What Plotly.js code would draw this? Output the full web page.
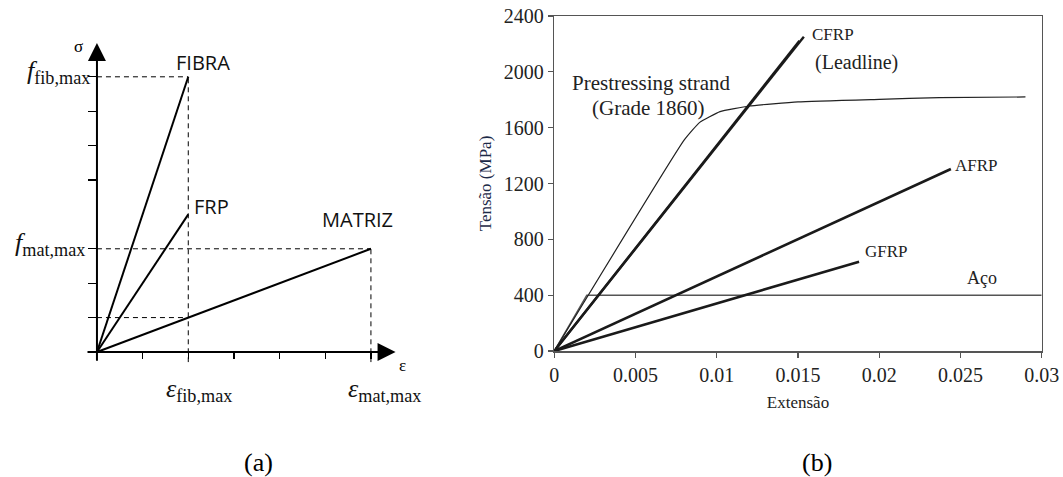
<!DOCTYPE html>
<html>
<head>
<meta charset="utf-8">
<script src="https://cdn.plot.ly/plotly-3.0.1.min.js"></script>
<style>html,body{margin:0;padding:0;background:#fff;}#chart{width:1063px;height:477px;}</style>
</head>
<body>
<div id="chart"></div>
<script>
// ---------- Panel (a): schematic ----------
const epsFib = 1;      // ε_fib,max
const epsMat = 3;      // ε_mat,max
const fFib = 8;        // f_fib,max
const fFRP = 4;        // FRP stress at ε_fib,max
const fMat = 3;        // f_mat,max
const fMatAtEpsFib = 1;
const schemXTicks = [0.5, 1, 1.5, 2, 2.5, 3];
const schemYTicks = [1, 2, 3, 5, 6, 7, 8];

// ---------- Panel (b): stress-strain ----------
const cfrpStrain = [0, 0.01536];
const cfrpStress = [0, 2252];
const cfrp2Strain = [0, 0.01509];
const cfrp2Stress = [0, 2223];
const afrpStrain = [0, 0.02441];
const afrpStress = [0, 1304];
const gfrpStrain = [0, 0.01876];
const gfrpStress = [0, 640];
const strandStrain = [0, 0.008, 0.00895, 0.0102, 0.0120, 0.0150, 0.0200, 0.0237, 0.0290];
const strandStress = [0, 1512, 1638, 1715, 1755, 1785, 1803, 1815, 1820];
const steelStrain = [0, 0.002, 0.030];
const steelStress = [0, 400, 400];
const xTickVals = [0, 0.005, 0.01, 0.015, 0.02, 0.025, 0.03];
const xTickText = ['0', '0.005', '0.01', '0.015', '0.02', '0.025', '0.03'];
const yTickVals = [0, 400, 800, 1200, 1600, 2000, 2400];

const serif = '"Liberation Serif", serif';
const sans = '"Open Sans", sans-serif';
const ink = '#1a1a1a';

function seg(x, y, opts) {
  return Object.assign({x: x, y: y, mode: 'lines', hoverinfo: 'skip', showlegend: false}, opts);
}

const solidA = {xaxis: 'x2', yaxis: 'y2', line: {color: '#000', width: 2}};
const dashA = {xaxis: 'x2', yaxis: 'y2', line: {color: '#000', width: 1, dash: '5px,4px'}};

const traces = [
  seg([0, epsFib], [fFib, fFib], dashA),
  seg([epsFib, epsFib], [-0.3, fFib], dashA),
  seg([0, epsMat], [fMat, fMat], dashA),
  seg([epsMat, epsMat], [-0.3, fMat], dashA),
  seg([0, epsFib], [fMatAtEpsFib, fMatAtEpsFib], dashA),
  seg([0, epsFib], [0, fFib], solidA),
  seg([0, epsFib], [0, fFRP], solidA),
  seg([0, epsMat], [0, fMat], solidA),
  seg(steelStrain, steelStress, {line: {color: '#555', width: 1.5}}),
  seg(strandStrain, strandStress, {line: {color: '#222', width: 1.2, shape: 'spline', smoothing: 0.4}}),
  seg(gfrpStrain, gfrpStress, {line: {color: ink, width: 2.6}}),
  seg(afrpStrain, afrpStress, {line: {color: ink, width: 2.6}}),
  seg(cfrp2Strain, cfrp2Stress, {line: {color: ink, width: 2.4}}),
  seg(cfrpStrain, cfrpStress, {line: {color: ink, width: 2.4}})
];

const W = 1063, H = 477;
const px = v => v / W;
const py = v => 1 - v / H;

function plabel(x, y, text, font, xa) {
  return {xref: 'paper', yref: 'paper', x: px(x), y: py(y), text: text, showarrow: false,
          xanchor: xa || 'center', yanchor: 'middle', font: font};
}
function dlabel(x, y, text, size, xa) {
  return {xref: 'x', yref: 'y', x: x, y: y, text: text, showarrow: false,
          xanchor: xa || 'left', yanchor: 'middle', font: {family: serif, size: size, color: '#222'}};
}

const mathFont = {family: serif, size: 26, color: '#111'};
const labFont = {family: sans, size: 20, color: '#111'};

const layout = {
  width: W, height: H,
  margin: {l: 0, r: 0, t: 0, b: 0},
  paper_bgcolor: '#fff', plot_bgcolor: 'rgba(0,0,0,0)',
  showlegend: false,
  font: {family: serif, color: ink},
  xaxis: {
    domain: [px(554.3), px(1041.7)], range: [0, 0.03], anchor: 'y',
    showgrid: false, zeroline: false, showline: true, mirror: true,
    linecolor: '#555', linewidth: 1.5,
    ticks: 'outside', ticklen: 5, tickcolor: '#555', tickwidth: 1.2,
    tickvals: xTickVals, ticktext: xTickText,
    tickfont: {family: serif, size: 20, color: '#222'},
    title: {text: 'Extensão', font: {family: serif, size: 17, color: '#222'}, standoff: 11}
  },
  yaxis: {
    domain: [py(351), py(16)], range: [0, 2400], anchor: 'x',
    showgrid: false, zeroline: false, showline: true, mirror: true,
    linecolor: '#555', linewidth: 1.5,
    ticks: 'outside', ticklen: 5, tickcolor: '#555', tickwidth: 1.2,
    tickvals: yTickVals,
    tickfont: {family: serif, size: 20, color: '#222'},
    title: {text: 'Tensão (MPa)', font: {family: serif, size: 17, color: '#1c2a48'}, standoff: 8}
  },
  xaxis2: {
    domain: [px(86), px(396.5)], range: [-0.12, 3.28], anchor: 'free', position: py(352),
    showgrid: false, zeroline: false, showline: false, showticklabels: false,
    ticks: 'outside', ticklen: 6, tickcolor: '#000', tickwidth: 1.2,
    tickvals: schemXTicks
  },
  yaxis2: {
    domain: [py(362.3), py(42.4)], range: [-0.3, 9.0], anchor: 'free', position: px(97),
    showgrid: false, zeroline: false, showline: false, showticklabels: false,
    ticks: 'outside', ticklen: 9, tickcolor: '#000', tickwidth: 1.2,
    tickvals: schemYTicks
  },
  annotations: [
    {xref: 'x2', yref: 'y2', axref: 'x2', ayref: 'y2', x: 3.27, y: 0, ax: -0.12, ay: 0,
     showarrow: true, arrowhead: 2, arrowsize: 1.8, arrowwidth: 2, arrowcolor: '#000', text: ''},
    {xref: 'x2', yref: 'y2', axref: 'x2', ayref: 'y2', x: 0, y: 8.98, ax: 0, ay: -0.3,
     showarrow: true, arrowhead: 2, arrowsize: 1.8, arrowwidth: 2, arrowcolor: '#000', text: ''},
    plabel(78, 46, 'σ', {family: serif, size: 17, color: '#000'}),
    plabel(402, 365, 'ε', {family: serif, size: 17, color: '#000'}),
    plabel(203, 63, 'FIBRA', labFont),
    plabel(211, 206, 'FRP', labFont),
    plabel(357, 219, 'MATRIZ', labFont),
    plabel(92, 72, '<i>f</i><sub>fib,max</sub>', mathFont, 'right'),
    plabel(87, 244, '<i>f</i><sub>mat,max</sub>', mathFont, 'right'),
    plabel(199, 390, '<i>ε</i><sub>fib,max</sub>', mathFont),
    plabel(384, 390, '<i>ε</i><sub>mat,max</sub>', mathFont),
    dlabel(0.01571, 2270, 'CFRP', 17),
    dlabel(0.01593, 2065, '(Leadline)', 20),
    dlabel(0.00596, 1918, 'Prestressing strand', 21, 'center'),
    dlabel(0.00578, 1739, '(Grade 1860)', 21, 'center'),
    dlabel(0.02456, 1330, 'AFRP', 17),
    dlabel(0.01899, 711, 'GFRP', 17),
    dlabel(0.02633, 523, 'Aço', 18, 'center'),
    plabel(258, 462, '(a)', {family: serif, size: 26, color: '#000'}),
    plabel(817, 462, '(b)', {family: serif, size: 26, color: '#000'})
  ]
};

Plotly.newPlot('chart', traces, layout, {staticPlot: true, displayModeBar: false});
</script>
</body>
</html>
